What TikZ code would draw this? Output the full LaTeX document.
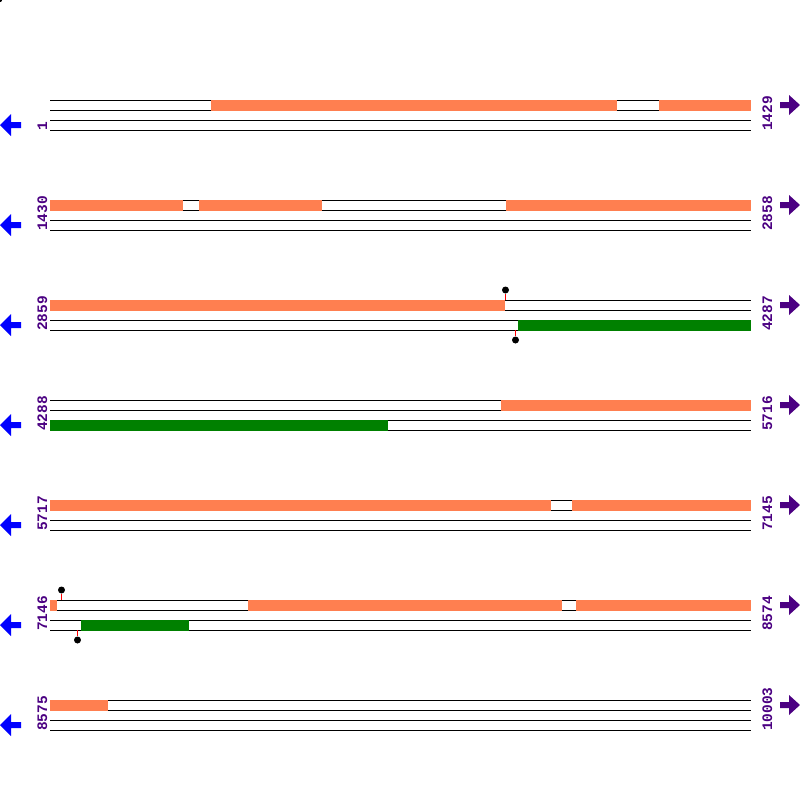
\documentclass[tikz,border=0pt]{standalone}
\usepackage{fontspec}
\newfontfamily\monofont{Liberation Mono}
\usetikzlibrary{positioning, calc}
\usepackage{xcolor}
\definecolor{orfcoral}{HTML}{FF7F50}
\definecolor{genegreen}{HTML}{008000}
\definecolor{strandpurple}{HTML}{4B0082}

\begin{document}
\begin{tikzpicture}[
  x=1pt, y=-1pt,
  track/.style={draw=black, line width=1pt},
  orf/.style={fill=orfcoral},
  gene/.style={fill=genegreen},
  numlab/.style={font=\monofont\bfseries\fontsize{14.5}{15}\selectfont, text=strandpurple, rotate=90, anchor=base west, inner sep=0pt},
  pin/.style={circle, fill=black, inner sep=0pt, minimum size=7pt},
  stem/.style={draw=red, line width=1pt},
  revarrow/.style={fill=blue},
  fwdarrow/.style={fill=strandpurple},
]
  \useasboundingbox (0,0) rectangle (800,800);
  \fill[white] (0,0) rectangle (800,800);

  % seven rows of four tracks, with start/end positions
  \foreach \r/\lo/\hi in {0/1/1429, 1/1430/2858, 2/2859/4287, 3/4288/5716,
                          4/5717/7145, 5/7146/8574, 6/8575/10003} {
    \foreach \d in {0,10,20,30}
      \draw[track] (50,{100+100*\r+\d}) -- (751,{100+100*\r+\d});
    \node[numlab] (lo\r) at (47,{131+100*\r}) {\lo};
    \node[numlab] (hi\r) at (772,{131+100*\r}) {\hi};
    \fill[revarrow] (0,{125+100*\r}) -- ++(11,-11) -- ++(0,8) -- ++(10,0)
      -- ++(0,6) -- ++(-10,0) -- ++(0,8) -- cycle;
    \fill[fwdarrow] (800,{105+100*\r}) -- ++(-11,-10) -- ++(0,7) -- ++(-9,0)
      -- ++(0,6) -- ++(9,0) -- ++(0,7) -- cycle;
  }

  % top strand blocks
  \fill[orf] (211,99.5) rectangle (617,110.5);
  \fill[orf] (659,99.5) rectangle (751,110.5);
  \fill[orf] (50,199.5) rectangle (183,210.5);
  \fill[orf] (199,199.5) rectangle (322,210.5);
  \fill[orf] (506,199.5) rectangle (751,210.5);
  \fill[orf] (50,299.5) rectangle (505,310.5);
  \fill[orf] (501,399.5) rectangle (751,410.5);
  \fill[orf] (50,499.5) rectangle (551,510.5);
  \fill[orf] (572,499.5) rectangle (751,510.5);
  \fill[orf] (50,599.5) rectangle (57,610.5);
  \fill[orf] (248,599.5) rectangle (562,610.5);
  \fill[orf] (576,599.5) rectangle (751,610.5);
  \fill[orf] (50,699.5) rectangle (108,710.5);

  % bottom strand blocks
  \fill[gene] (518,319.5) rectangle (751,330.5);
  \fill[gene] (50,419.5) rectangle (388,430.5);
  \fill[gene] (81,619.5) rectangle (189,630.5);

  % pins
  \node[pin] (d0) at (-1,-1) {};
  \coordinate (p1) at (505.5,300);
  \node[pin] (d1) at (505.5,290) {};
  \coordinate (p2) at (515.5,330);
  \node[pin] (d2) at (515.5,340) {};
  \coordinate (p3) at (61.5,600);
  \node[pin] (d3) at (61.5,590) {};
  \coordinate (p4) at (77.5,630);
  \node[pin] (d4) at (77.5,640) {};
  \draw[stem] (p1) -- (d1);
  \draw[stem] (p2) -- (d2);
  \draw[stem] (p3) -- (d3);
  \draw[stem] (p4) -- (d4);
\end{tikzpicture}
\end{document}
